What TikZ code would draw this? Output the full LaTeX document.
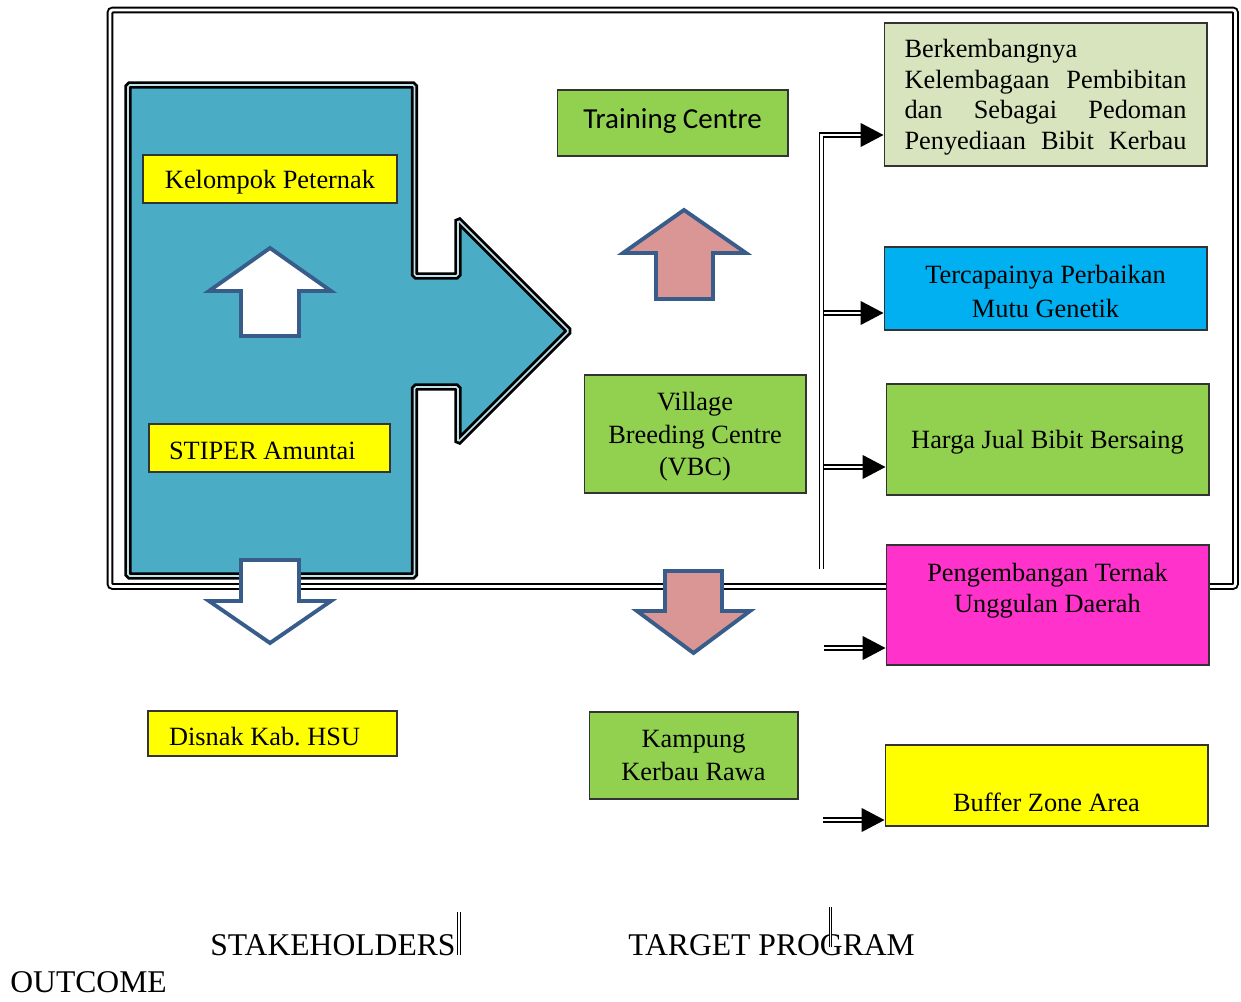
\documentclass[tikz,border=0pt]{standalone}
\usepackage{fontspec}
\setmainfont{Liberation Serif}
\newfontfamily\calibrifont{Carlito}
\usetikzlibrary{arrows.meta, positioning, calc}
\definecolor{kalBlue}{RGB}{75,172,198}
\definecolor{kalLine}{RGB}{56,93,138}
\definecolor{kalPink}{RGB}{217,150,148}
\definecolor{kalGreen}{RGB}{146,208,80}
\definecolor{kalSage}{RGB}{215,228,189}
\definecolor{kalCyan}{RGB}{0,176,240}
\definecolor{kalMagenta}{RGB}{255,51,204}
\definecolor{kalYellow}{RGB}{255,255,0}
\frenchspacing
\newcommand{\kaltop}{\rule{0pt}{13.5pt}}

\begin{document}
\begin{tikzpicture}[
    x=0.02cm, y=-0.02cm,
    every node/.style={font=\fontsize{15}{18}\selectfont},
    box/.style={
      rectangle, draw=black!80, line width=0.6pt, inner sep=0pt, align=center
    },
    tagbox/.style={box, fill=kalYellow, minimum height=0.96cm, text height=13.5pt},
    hubbox/.style={box, fill=kalGreen},
    outbox/.style={box, minimum width=6.46cm},
    blockarr/.style={draw=kalLine, line width=2.2pt, line join=miter},
    dbl/.style={draw=black, double=white, double distance=1.4pt, line width=0.8pt},
    arr/.style={dbl, -{Triangle[length=13pt, width=13.5pt]}},
    frame/.style={draw=black, double=white, double distance=1.6pt, line width=1.1pt, rounded corners=1.5pt},
    footlbl/.style={font=\fontsize{18}{21}\selectfont, inner sep=0pt}
  ]
    \useasboundingbox (0,0) rectangle (1241,1001);

    % outer frame
    \draw[frame] (110,10) rectangle (1235.5,586.5);

    % stakeholder block with its right arrow
    \draw[fill=kalBlue, draw=black, double=kalBlue!35, double distance=0.9pt, line width=1.6pt, rounded corners=1pt]
      (128,85) -- (414.5,85) -- (414.5,276) -- (458,276) -- (458,220) -- (569,331)
      -- (458,442) -- (458,387) -- (414.5,387) -- (414.5,576) -- (128,576) -- cycle;

    \draw[blockarr, fill=white] (241,336) -- (241,291) -- (209,291) -- (270,248)
      -- (331,291) -- (299,291) -- (299,336) -- cycle;

    \node[tagbox, minimum width=5.08cm] (kelompok) at (270,179) {Kelompok Peternak};
    \node[tagbox, minimum width=4.82cm, text width=4.02cm, align=flush left] (stiper) at (269.5,448) {STIPER Amuntai};

    \draw[blockarr, fill=white] (241,560) -- (299,560) -- (299,601) -- (331,601)
      -- (270,643) -- (209,601) -- (241,601) -- cycle;

    \node[tagbox, minimum width=4.98cm, minimum height=0.9cm, text width=4.14cm, align=flush left] (disnak) at (272.5,733.5) {Disnak Kab. HSU};

    % target program
    \node[hubbox, minimum width=4.62cm, minimum height=1.32cm, text height=9pt, font=\calibrifont\fontsize{16.5}{19}\selectfont] (train) at (672.5,123) {Training Centre};

    \draw[blockarr, fill=kalPink] (656,299) -- (656,253) -- (623,253) -- (684,210)
      -- (746,253) -- (713,253) -- (713,299) -- cycle;

    \node[hubbox, minimum width=4.44cm, minimum height=2.36cm, font=\fontsize{15}{18.7}\selectfont] (vbc) at (695,434) {\kaltop Village\\Breeding Centre\\(VBC)};

    \draw[blockarr, fill=kalPink] (665,571) -- (722,571) -- (722,611) -- (750,611)
      -- (693.5,653) -- (637,611) -- (665,611) -- cycle;

    \node[hubbox, minimum width=4.18cm, minimum height=1.74cm, font=\fontsize{15}{19.3}\selectfont] (kampung) at (693.5,755.5) {Kampung\\Kerbau Rawa};

    % outcome
    \node[outbox, fill=kalSage, minimum height=2.86cm, text width=5.64cm, align=flush left, text height=13.5pt, font=\fontsize{15}{17.4}\selectfont] (out1) at (1045.5,94.5)
      {Berkembangnya\\Kelembagaan\hfill Pembibitan\\dan\hfill Sebagai\hfill Pedoman\\Penyediaan\hfill Bibit\hfill Kerbau};
    \node[outbox, fill=kalCyan, minimum height=1.66cm, font=\fontsize{15}{19.3}\selectfont] (out2) at (1045.5,288.5) {\kaltop Tercapainya Perbaikan\\Mutu Genetik};
    \node[outbox, fill=kalGreen, minimum height=2.22cm, text height=13.5pt] (out3) at (1047.5,439.5) {Harga Jual Bibit Bersaing};
    \node[outbox, fill=kalMagenta, minimum height=2.4cm, font=\fontsize{15}{17.6}\selectfont] (out4) at (1047.5,605) {\kaltop Pengembangan Ternak\\Unggulan Daerah\\\strut};
    \node[outbox, fill=kalYellow, minimum height=1.62cm, font=\fontsize{15}{17.6}\selectfont] (out5) at (1046.5,785.5) {\strut\\Buffer Zone Area};

    \coordinate (bustop) at (821.5,135);
    \coordinate (busbot) at (821.5,569);
    \coordinate (tap2) at (824,313);
    \coordinate (tap3) at (824,467);
    \coordinate (feed4) at (824,648);
    \coordinate (feed5) at (823,820);

    \draw[arr] (busbot) |- (bustop -| out1.west);
    \draw[arr] (tap2) -- (tap2 -| out2.west);
    \draw[arr] (tap3) -- (tap3 -| out3.west);
    \draw[arr] (feed4) -- (feed4 -| out4.west);
    \draw[arr] (feed5) -- (feed5 -| out5.west);

    % column captions
    \node[footlbl, anchor=base west] (stake) at (210,955) {STAKEHOLDERS};
    \node[footlbl, anchor=base west] (target) at (628,955) {TARGET PROGRAM};
    \node[footlbl, anchor=base west] (outcome) at (10,992) {OUTCOME};

    \coordinate (tickA) at (459,912);
    \coordinate (tickB) at (830.5,907);
    \draw[dbl, line width=0.5pt, double distance=1pt] (tickA) -- (tickA |- stake.base);
    \draw[dbl, line width=0.5pt, double distance=1pt] (tickB) -- ++(0,40);
  \end{tikzpicture}
\end{document}
